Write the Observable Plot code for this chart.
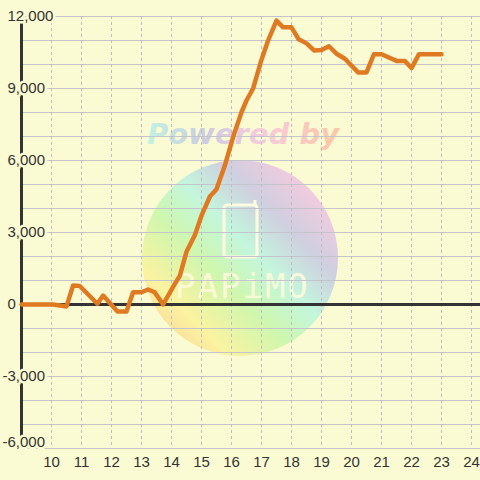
<!DOCTYPE html>
<html><head><meta charset="utf-8">
<script src="https://cdn.jsdelivr.net/npm/d3@7"></script>
<script src="https://cdn.jsdelivr.net/npm/@observablehq/plot@0.6"></script>
<style>body{margin:0;background:#fbfbd3}</style>
</head><body><div id="chart"></div>
<script>
// data (hour of day, value)
const hours = [9.0, 10.05, 10.5, 10.72, 10.94, 11.53, 11.72, 12.2, 12.5, 12.72, 13.0, 13.22, 13.44, 13.72,
  14.11, 14.28, 14.5, 14.78, 15.0, 15.28, 15.5, 15.78, 16.06, 16.33, 16.5, 16.72, 17.0, 17.22, 17.5, 17.72, 18.0,
  18.24, 18.5, 18.76, 19.0, 19.25, 19.5, 19.78, 20.22, 20.5, 20.75, 21.0, 21.5, 21.78, 22.0, 22.25, 23.0];
const values = [0, 0, -80, 790, 770, 30, 375, -290, -290, 510, 510, 625, 510, 0,
  860, 1200, 2200, 2900, 3700, 4500, 4800, 5800, 7000, 8000, 8500, 9000, 10200, 11000, 11830, 11550, 11550,
  11050, 10880, 10580, 10600, 10760, 10450, 10240, 9670, 9670, 10430, 10430, 10150, 10150, 9850, 10430, 10430];
const xTicks = [10, 11, 12, 13, 14, 15, 16, 17, 18, 19, 20, 21, 22, 23, 24];
const yTicks = [-6000, -3000, 0, 3000, 6000, 9000, 12000];
const yGrid = [-6000, -5000, -4000, -3000, -2000, -1000, 0, 1000, 2000, 3000, 4000, 5000, 6000, 7000, 8000, 9000, 10000, 11000, 12000];

const BG = "#fbfbd3";
const points = hours.map((h, i) => ({h, v: values[i]}));
const fmt = d => d3.format(",")(d).replace("\u2212", "-");

const svg = Plot.plot({
  width: 480, height: 480,
  marginTop: 16, marginLeft: 21, marginRight: 0, marginBottom: 32,
  style: {background: BG, fontFamily: "'Liberation Sans', Arial, sans-serif"},
  x: {domain: [9, 24.3], axis: null},
  y: {domain: [-6000, 12000], axis: null},
  marks: [
    Plot.ruleY(yGrid, {stroke: "#c4c4cc", strokeWidth: 1}),
    Plot.ruleX(xTicks, {stroke: "#bdbdc6", strokeWidth: 1, strokeDasharray: "3,3"}),
    Plot.ruleY([0], {stroke: "#333", strokeWidth: 3}),
    Plot.ruleX([9], {stroke: "#333", strokeWidth: 3}),
    Plot.line(points, {x: "h", y: "v", stroke: "#e07a22", strokeWidth: 4.5, strokeLinejoin: "round"}),
    Plot.text(yTicks.filter(d => d >= 0), {x: 9, y: d => d, text: fmt, textAnchor: "start", dx: -14,
      fontSize: 15, fill: "#333", stroke: BG, strokeWidth: 5}),
    Plot.text(yTicks.filter(d => d < 0 && d > -6000), {x: 9, y: d => d, text: fmt, textAnchor: "start", dx: -19,
      fontSize: 15, fill: "#333", stroke: BG, strokeWidth: 5}),
    Plot.text(yTicks.filter(d => d === -6000), {x: 9, y: d => d, text: fmt, textAnchor: "start", dx: -19, dy: -6,
      fontSize: 15, fill: "#333", stroke: BG, strokeWidth: 5}),
    Plot.text(xTicks, {x: d => d, y: -6000, dy: 14, text: d => String(d), fontSize: 15, fill: "#333"})
  ]
});

// decorative watermark
const s = d3.select(svg);
const defs = s.insert("defs", ":first-child");
const g1 = defs.append("linearGradient").attr("id", "wmCircle").attr("x1", 0).attr("y1", 1).attr("x2", 1).attr("y2", 0);
[["0", "#fcc496"], ["0.22", "#fbf3a0"], ["0.4", "#cff7ae"], ["0.55", "#c3f6dc"], ["0.7", "#cfcfe0"], ["0.88", "#f8cade"], ["1", "#fbcde0"]]
  .forEach(([o, c]) => g1.append("stop").attr("offset", o).attr("stop-color", c));
const g2 = defs.append("linearGradient").attr("id", "wmText").attr("x1", 0).attr("y1", 0).attr("x2", 1).attr("y2", 0);
[["0", "#c3f3e0"], ["0.3", "#cccce2"], ["0.6", "#f8cade"], ["1", "#fcc8a4"]]
  .forEach(([o, c]) => g2.append("stop").attr("offset", o).attr("stop-color", c));
const wm = s.insert("g", "g");
wm.append("circle").attr("cx", 240).attr("cy", 258).attr("r", 98).attr("fill", "url(#wmCircle)");
wm.append("rect").attr("x", 224).attr("y", 205).attr("width", 33).attr("height", 52).attr("rx", 3)
  .attr("fill", "none").attr("stroke", "#fffbe0").attr("stroke-width", 3);
wm.append("line").attr("x1", 255).attr("y1", 200).attr("x2", 255).attr("y2", 206)
  .attr("stroke", "#fffbe0").attr("stroke-width", 3);
wm.append("text").attr("x", 175).attr("y", 298).attr("text-anchor", "start")
  .attr("font-family", "'DejaVu Sans Mono', monospace").attr("font-size", 34).attr("letter-spacing", 2)
  .attr("fill", "#fffbdc").attr("fill-opacity", 0.9).text("PAPiMO");
wm.append("text").attr("x", 243).attr("y", 144).attr("text-anchor", "middle")
  .attr("font-family", "'DejaVu Sans', sans-serif").attr("font-weight", "bold").attr("font-style", "italic")
  .attr("font-size", 29).attr("fill", "url(#wmText)").text("Powered by");

document.getElementById("chart").appendChild(svg);
</script>
</body></html>
